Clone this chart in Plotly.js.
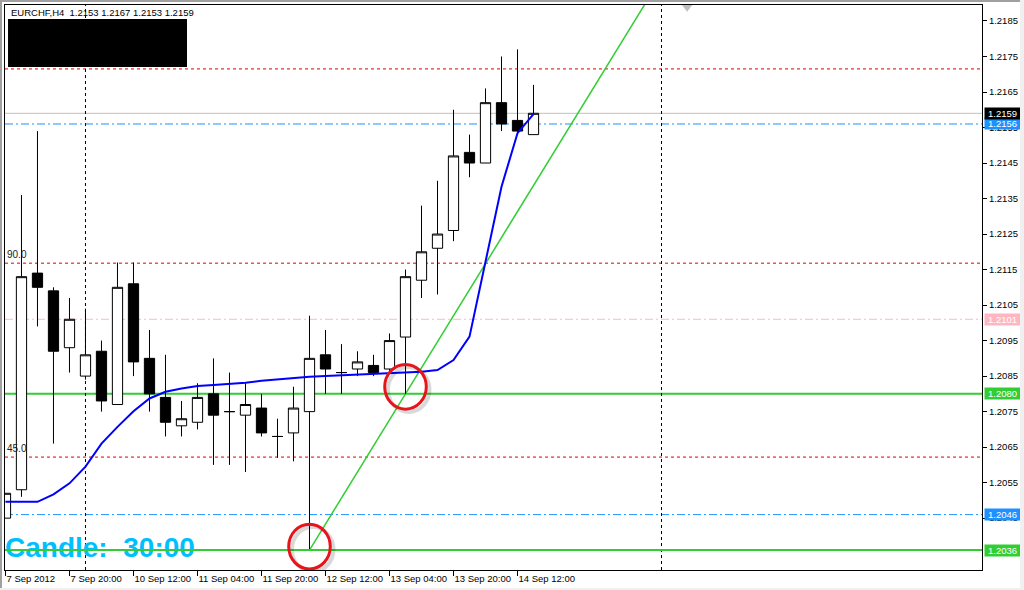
<!DOCTYPE html>
<html>
<head>
<meta charset="utf-8">
<script src="https://cdn.plot.ly/plotly-3.0.1.min.js"></script>
<style>
  html, body { margin: 0; padding: 0; background: #ffffff; }
  #wrap { position: relative; width: 1024px; height: 590px; overflow: hidden; }
  #chart { position: absolute; left: 0; top: 0; width: 1024px; height: 590px; }
  .edge { position: absolute; pointer-events: none; }
</style>
</head>
<body>
<div id="wrap">
  <div id="chart"></div>
  <div class="edge" style="left:0;top:0;width:1024px;height:2px;background:#a0a0a0;"></div>
  <div class="edge" style="left:0;top:0;width:2px;height:590px;background:#a0a0a0;"></div>
  <div class="edge" style="left:1020px;top:0;width:4px;height:590px;background:#f0f0f0;"></div>
  <div class="edge" style="left:0;top:588px;width:1024px;height:2px;background:#f0f0f0;"></div>
</div>
<script>
// ---------- DATA ----------
const symbolName = 'EURCHF,H4';
const barIndex = [0,1,2,3,4,5,6,7,8,9,10,11,12,13,14,15,16,17,18,19,20,21,22,23,24,25,26,27,28,29,30,31,32,33];
const openP  = [1.2045,1.2053,1.2114,1.2109,1.2093,1.2085,1.2092,1.2077,1.2111,1.2090,1.2079,1.2071,1.2072,1.2080,1.2075,1.2074,1.2076,1.2068,1.2069,1.2075,1.2091,1.2086,1.2087,1.2088,1.2087,1.2096,1.2112,1.2121,1.2126,1.2148,1.2145,1.2162,1.2157,1.2153];
const highP  = [1.2052,1.2136,1.2154,1.2110,1.2107,1.2104,1.2095,1.2117,1.2117,1.2098,1.2091,1.2078,1.2083,1.2090,1.2086,1.2083,1.2080,1.2073,1.2082,1.2102,1.2098,1.2094,1.2092,1.2091,1.2097,1.2115,1.2133,1.2140,1.2160,1.2153,1.2166,1.2175,1.2177,1.2167];
const lowP   = [1.2045,1.2051,1.2099,1.2066,1.2086,1.2084,1.2075,1.2077,1.2085,1.2075,1.2068,1.2068,1.2070,1.2060,1.2060,1.2058,1.2068,1.2062,1.2061,1.2036,1.2080,1.2080,1.2085,1.2085,1.2086,1.2080,1.2107,1.2108,1.2123,1.2141,1.2145,1.2154,1.2153,1.2153];
const closeP = [1.2052,1.2113,1.2110,1.2092,1.2101,1.2091,1.2078,1.2110,1.2089,1.2080,1.2072,1.2073,1.2079,1.2074,1.2075,1.2077,1.2069,1.2068,1.2076,1.2090,1.2087,1.2086,1.2089,1.2086,1.2095,1.2113,1.2120,1.2125,1.2147,1.2145,1.2162,1.2156,1.2154,1.2159];
const maValues = [1.20496,1.20496,1.20496,1.20517,1.20548,1.20595,1.20660,1.20707,1.20751,1.20787,1.20806,1.20815,1.20822,1.20825,1.20827,1.20831,1.20837,1.20841,1.20844,1.20848,1.20850,1.20852,1.20853,1.20855,1.20856,1.20858,1.20862,1.20867,1.20895,1.20961,1.21177,1.21383,1.21534,1.21588];

const xTickBars   = [0,4,8,12,16,20,24,28,32];
const xTickLabels = ['7 Sep 2012','7 Sep 20:00','10 Sep 12:00','11 Sep 04:00','11 Sep 20:00','12 Sep 12:00','13 Sep 04:00','13 Sep 20:00','14 Sep 12:00'];
const yTickVals   = [1.2045,1.2055,1.2065,1.2075,1.2085,1.2095,1.2105,1.2115,1.2125,1.2135,1.2145,1.2155,1.2165,1.2175,1.2185];

const bidPrice = 1.2159;
const blueLevels = [1.2156, 1.2046];
const pinkLevel = 1.2101;
const greenLevels = [1.2080, 1.2036];
const fiboLevels = [1.20622, 1.21168, 1.21715];
const fiboLabels = ['45.0', '90.0', '135.0'];
const vLineBars = [5, 41];
const trendBars = [19, 25];
const trendPrices = [1.2036, 1.2080];
const timerText = 'Candle:\u00a0 30:00';
const arrowBar = 42.6;

// ---------- STYLE / GEOMETRY ----------
const xRange = [-0.03, 61.03];
const yRange = [1.20304, 1.21895];
const FONT = 'Liberation Sans, Arial, sans-serif';
const GREEN = '#32cd32', BLUE_DD = '#1e90ff', PINK = '#ffb6c1', RED = '#dd0000';

const shapes = [];
function hline(y, color, width, dash, layer) {
  shapes.push({type:'line', xref:'paper', x0:0, x1:1, yref:'y', y0:y, y1:y,
    line:{color:color, width:width, dash:dash}, layer:layer || 'below'});
}
fiboLevels.forEach(v => hline(v, RED, 1, '3px,3px'));
hline(pinkLevel, PINK, 1, '8px,3px,2px,3px');
blueLevels.forEach(v => hline(v, BLUE_DD, 1, '8px,3px,2px,3px'));
hline(bidPrice, '#c0c0c0', 1, 'solid');
hline(greenLevels[0], GREEN, 2, 'solid');
hline(greenLevels[1], GREEN, 2, 'solid', 'above');
vLineBars.forEach(b => shapes.push({type:'line', xref:'x', x0:b, x1:b, yref:'paper', y0:0, y1:1,
  line:{color:'black', width:1, dash:'3px,3px'}, layer:'below'}));

// trend line (ray) from two anchors
const slope = (trendPrices[1]-trendPrices[0])/(trendBars[1]-trendBars[0]);
const farBar = xRange[1];
shapes.push({type:'line', xref:'x', yref:'y', x0:trendBars[0], y0:trendPrices[0],
  x1:farBar, y1:trendPrices[0] + slope*(farBar-trendBars[0]),
  line:{color:GREEN, width:1.5}, layer:'below'});

// hand-drawn red circles around trend anchors (with soft shadow)
const rx = 1.3, ry = 0.00063;
const circleOffsets = [0.0001, 0.0002];
trendBars.forEach((b, i) => {
  const cy = trendPrices[i] + circleOffsets[i];
  shapes.push({type:'circle', xref:'x', yref:'y', x0:b-rx+0.2, x1:b+rx+0.2, y0:cy-ry-0.00008, y1:cy+ry-0.00008,
    line:{color:'rgba(0,0,0,0.15)', width:4}, layer:'above'});
  shapes.push({type:'circle', xref:'x', yref:'y', x0:b-rx, x1:b+rx, y0:cy-ry, y1:cy+ry,
    line:{color:'#e8141c', width:3}, layer:'above'});
});

// black redaction box at top-left
shapes.push({type:'rect', xref:'paper', yref:'paper', x0:0.0031, x1:0.1863, y0:0.8903, y1:0.9752,
  fillcolor:'black', line:{width:0}, layer:'above'});

// ---------- ANNOTATIONS ----------
const last = barIndex.length - 1;
const annotations = [];
annotations.push({xref:'paper', yref:'paper', x:0.004, y:0.9876, xanchor:'left', yanchor:'middle',
  showarrow:false, text: symbolName + '\u00a0 ' + [openP[last],highP[last],lowP[last],closeP[last]].map(v=>v.toFixed(4)).join(' '),
  font:{family:FONT, size:9.5, color:'black'}});
fiboLevels.slice(0,2).forEach((v,i) => annotations.push({xref:'paper', yref:'y', x:0, y:v, xanchor:'left', yanchor:'bottom',
  yshift:1, showarrow:false, text:fiboLabels[i], font:{family:FONT, size:10, color:'#222'}}));

function priceTag(v, bg) {
  annotations.push({xref:'paper', yref:'y', x:1, y:v, xanchor:'left', yanchor:'middle', xshift:2,
    showarrow:false, text:v.toFixed(4), bgcolor:bg, borderpad:0, width:35,
    font:{family:FONT, size:9.5, color:'white'}});
}
priceTag(pinkLevel, PINK);
priceTag(greenLevels[0], GREEN);
priceTag(blueLevels[1], BLUE_DD);
priceTag(greenLevels[1], GREEN);
priceTag(blueLevels[0], BLUE_DD);
priceTag(bidPrice, 'black');

// ---------- TRACES ----------
const traces = [
  {type:'candlestick', x:barIndex, open:openP, high:highP, low:lowP, close:closeP,
   increasing:{line:{color:'black', width:1}, fillcolor:'white'},
   decreasing:{line:{color:'black', width:1}, fillcolor:'black'},
   whiskerwidth:0, hoverinfo:'skip', showlegend:false},
  {type:'scatter', mode:'lines', x:barIndex, y:maValues, line:{color:'#0000ff', width:2},
   hoverinfo:'skip', showlegend:false},
  {type:'scatter', mode:'text', x:[xRange[0]], y:[greenLevels[1]], text:[timerText],
   textposition:'middle right', cliponaxis:false,
   textfont:{family:FONT, size:28, color:'#00bfff', weight:'bold'}, hoverinfo:'skip', showlegend:false},
  {type:'scatter', mode:'markers', x:[arrowBar], y:[yRange[1] - 0.00006],
   marker:{symbol:'triangle-down', size:9, color:'#c0c0c0'}, cliponaxis:false, hoverinfo:'skip', showlegend:false}
];

const layout = {
  width:1024, height:590,
  margin:{l:5, r:42, t:5, b:20, pad:0},
  paper_bgcolor:'white', plot_bgcolor:'white',
  showlegend:false,
  boxgap:0.2, boxgroupgap:0.2,
  xaxis:{range:xRange, showgrid:false, zeroline:false, showline:true, mirror:true,
    linecolor:'black', linewidth:1, ticks:'outside', ticklen:5, tickcolor:'black',
    tickmode:'array', tickvals:xTickBars, ticktext:xTickLabels, ticklabelposition:'outside right',
    tickangle:0, automargin:false,
    tickfont:{family:FONT, size:9.5, color:'black'}, rangeslider:{visible:false}, fixedrange:true},
  yaxis:{range:yRange, side:'right', showgrid:false, zeroline:false, showline:true, mirror:true,
    linecolor:'black', linewidth:1, ticks:'outside', ticklen:4, tickcolor:'black',
    tickmode:'array', tickvals:yTickVals, ticktext:yTickVals.map(v=>v.toFixed(4)), automargin:false,
    tickfont:{family:FONT, size:9.5, color:'black'}, fixedrange:true},
  shapes:shapes,
  annotations:annotations
};

Plotly.newPlot('chart', traces, layout, {displayModeBar:false, staticPlot:true});
</script>
</body>
</html>
